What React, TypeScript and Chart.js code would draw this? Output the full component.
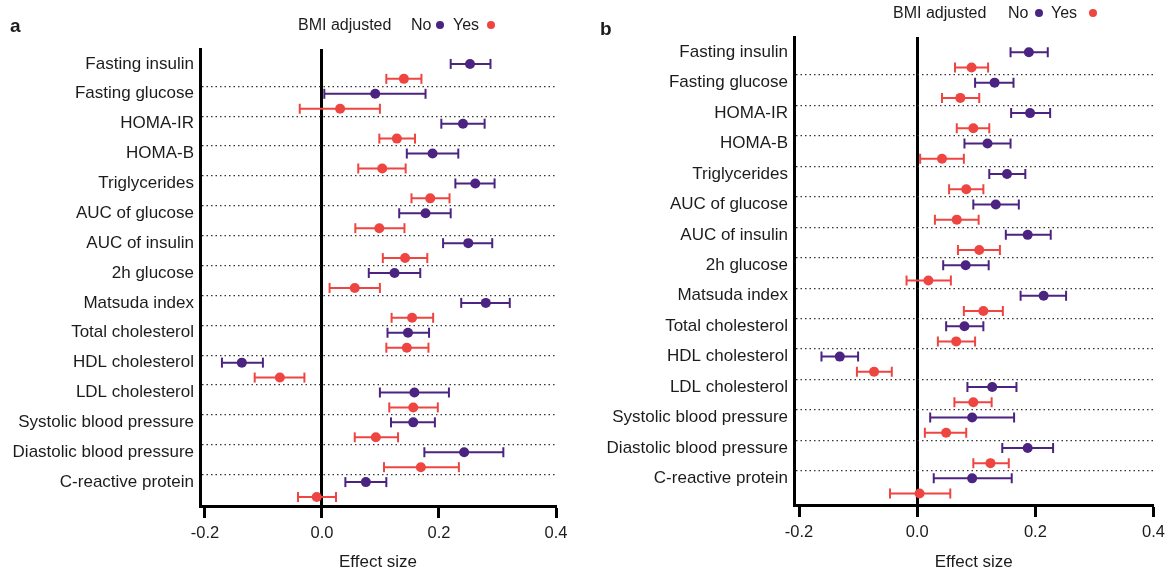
import React, { useEffect, useRef } from 'react';
import { Chart, registerables } from 'chart.js';

Chart.register(...registerables);

const FONT = '"Liberation Sans", Arial, Helvetica, sans-serif';

const categories = [
  'Fasting insulin', 'Fasting glucose', 'HOMA-IR', 'HOMA-B', 'Triglycerides',
  'AUC of glucose', 'AUC of insulin', '2h glucose', 'Matsuda index', 'Total cholesterol',
  'HDL cholesterol', 'LDL cholesterol', 'Systolic blood pressure', 'Diastolic blood pressure',
  'C-reactive protein',
];

// Panel a — BMI adjusted: No
const aNoEst = [0.253, 0.091, 0.241, 0.189, 0.262, 0.177, 0.250, 0.124, 0.280, 0.147, -0.137, 0.158, 0.156, 0.243, 0.075];
const aNoLo = [0.220, 0.004, 0.204, 0.145, 0.228, 0.132, 0.207, 0.080, 0.238, 0.112, -0.171, 0.099, 0.118, 0.175, 0.040];
const aNoHi = [0.288, 0.177, 0.278, 0.233, 0.295, 0.220, 0.291, 0.168, 0.321, 0.183, -0.101, 0.217, 0.193, 0.310, 0.110];
// Panel a — BMI adjusted: Yes
const aYesEst = [0.140, 0.031, 0.128, 0.103, 0.185, 0.098, 0.142, 0.056, 0.154, 0.145, -0.072, 0.156, 0.092, 0.169, -0.009];
const aYesLo = [0.110, -0.038, 0.098, 0.062, 0.153, 0.057, 0.104, 0.013, 0.119, 0.110, -0.115, 0.115, 0.056, 0.106, -0.041];
const aYesHi = [0.170, 0.099, 0.159, 0.143, 0.218, 0.141, 0.180, 0.099, 0.190, 0.182, -0.030, 0.198, 0.130, 0.234, 0.024];

// Panel b — BMI adjusted: No
const bNoEst = [0.189, 0.131, 0.191, 0.119, 0.152, 0.133, 0.187, 0.082, 0.214, 0.080, -0.131, 0.127, 0.093, 0.187, 0.093];
const bNoLo = [0.158, 0.098, 0.159, 0.080, 0.122, 0.095, 0.150, 0.044, 0.175, 0.049, -0.162, 0.085, 0.022, 0.144, 0.028];
const bNoHi = [0.221, 0.163, 0.225, 0.158, 0.183, 0.172, 0.226, 0.121, 0.252, 0.112, -0.100, 0.168, 0.164, 0.230, 0.160];
// Panel b — BMI adjusted: Yes
const bYesEst = [0.092, 0.073, 0.095, 0.042, 0.083, 0.067, 0.105, 0.019, 0.112, 0.066, -0.073, 0.095, 0.049, 0.124, 0.004];
const bYesLo = [0.064, 0.042, 0.067, 0.005, 0.054, 0.030, 0.069, -0.018, 0.079, 0.035, -0.102, 0.063, 0.013, 0.095, -0.046];
const bYesHi = [0.120, 0.105, 0.122, 0.079, 0.112, 0.104, 0.140, 0.057, 0.145, 0.098, -0.043, 0.126, 0.083, 0.155, 0.056];

const xTicks = [-0.2, 0, 0.2, 0.4];
const xMin = -0.2085;
const xMax = 0.4;

const PURPLE = '#4b2380';
const RED = '#ee4540';
const TEXT = '#1c1c1c';

type Group = { est: number[]; lo: number[]; hi: number[]; color: string; offset: number };

function groupDatasets(g: Group): any[] {
  const slot = (i: number) => 2 * i + g.offset;
  return [
    {
      type: 'scatter',
      data: g.est.map((v, i) => ({ x: v, y: slot(i) })),
      pointRadius: 5,
      pointBackgroundColor: g.color,
      pointBorderWidth: 0,
      order: 0,
    },
    {
      type: 'scatter',
      data: g.lo.flatMap((v, i) => [{ x: v, y: slot(i) }, { x: g.hi[i], y: slot(i) }]),
      pointStyle: 'line',
      rotation: 90,
      pointRadius: 5,
      pointBorderColor: g.color,
      pointBorderWidth: 2,
      order: 1,
    },
    {
      type: 'line',
      data: g.lo.flatMap((v, i) => [
        { x: v, y: slot(i) },
        { x: g.hi[i], y: slot(i) },
        { x: null, y: null },
      ]),
      borderColor: g.color,
      borderWidth: 2,
      pointRadius: 0,
      showLine: true,
      spanGaps: false,
      fill: false,
      order: 2,
    },
  ];
}

type PanelProps = {
  width: number;
  height: number;
  padTop: number;
  padRight: number;
  yWidth: number;
  xHeight: number;
  yMax: number;
  groups: Group[];
};

function ForestPanel(p: PanelProps) {
  const ref = useRef<HTMLCanvasElement | null>(null);
  useEffect(() => {
    if (!ref.current) return;
    const labelTicks = categories.map((_, i) => 2 * i);
    const gridTicks = categories.slice(0, -1).map((_, i) => 2 * i + 1.5);
    const allTicks = [...labelTicks, ...gridTicks].sort((a, b) => a - b);
    const isLabel = (v: number) => Number.isInteger(v) && v % 2 === 0;
    const chart = new Chart(ref.current, {
      type: 'scatter',
      data: { datasets: p.groups.flatMap(groupDatasets) },
      options: {
        responsive: false,
        animation: false,
        events: [],
        layout: { padding: { top: p.padTop, right: p.padRight, left: 0, bottom: 0 } },
        plugins: { legend: { display: false }, tooltip: { enabled: false } },
        scales: {
          x: {
            type: 'linear',
            min: xMin,
            max: xMax,
            afterBuildTicks: (s: any) => {
              s.ticks = xTicks.map((v) => ({ value: v }));
            },
            afterFit: (s: any) => {
              s.height = p.xHeight;
            },
            ticks: {
              callback: (v: any) => Number(v).toFixed(1),
              font: { family: FONT, size: 16.5 },
              color: TEXT,
              padding: 6,
              autoSkip: false,
              maxRotation: 0,
            },
            grid: {
              drawOnChartArea: true,
              color: (ctx: any) => (ctx.tick && ctx.tick.value === 0 ? '#000' : 'rgba(0,0,0,0)'),
              lineWidth: (ctx: any) => (ctx.tick && ctx.tick.value === 0 ? 3 : 1),
              drawTicks: true,
              tickLength: 12,
              tickWidth: 3,
              tickColor: '#000',
            },
            border: { display: true, color: '#000', width: 3 },
            title: {
              display: true,
              text: 'Effect size',
              font: { family: FONT, size: 17 },
              color: TEXT,
              padding: { top: 0, bottom: 3 },
            },
          },
          y: {
            type: 'linear',
            reverse: true,
            min: -1,
            max: p.yMax,
            afterBuildTicks: (s: any) => {
              s.ticks = allTicks.map((v) => ({ value: v }));
            },
            afterFit: (s: any) => {
              s.width = p.yWidth;
            },
            ticks: {
              callback: (v: any) => (isLabel(Number(v)) ? categories[Number(v) / 2] : ''),
              font: { family: FONT, size: 17 },
              color: TEXT,
              padding: 6,
              autoSkip: false,
            },
            grid: {
              drawTicks: false,
              color: (ctx: any) => (ctx.tick && !isLabel(ctx.tick.value) ? '#333' : 'rgba(0,0,0,0)'),
              lineWidth: 1.2,
            },
            border: { display: true, color: '#000', width: 3, dash: [1.5, 3] },
          },
        },
      } as any,
    });
    return () => chart.destroy();
  }, []);
  return <canvas ref={ref} width={p.width} height={p.height} style={{ display: 'block' }} />;
}

const abs = (left: number, cy: number, extra: React.CSSProperties = {}): React.CSSProperties => ({
  position: 'absolute',
  left,
  top: cy,
  transform: 'translateY(-50%)',
  lineHeight: 1,
  whiteSpace: 'nowrap',
  ...extra,
});

function Dot({ left, cy, color }: { left: number; cy: number; color: string }) {
  return (
    <span
      style={{
        position: 'absolute',
        left,
        top: cy - 4,
        width: 8,
        height: 8,
        borderRadius: '50%',
        background: color,
      }}
    />
  );
}

export default function App() {
  return (
    <div
      style={{
        position: 'fixed',
        left: 0,
        top: 0,
        width: 1171,
        height: 576,
        background: '#fff',
        fontFamily: FONT,
        color: TEXT,
        overflow: 'hidden',
      }}
    >
      <div style={{ position: 'absolute', left: 0, top: 0 }}>
        <ForestPanel
          width={585}
          height={576}
          padTop={49}
          padRight={29}
          yWidth={200}
          xHeight={70}
          yMax={29.6}
          groups={[
            { est: aNoEst, lo: aNoLo, hi: aNoHi, color: PURPLE, offset: 0 },
            { est: aYesEst, lo: aYesLo, hi: aYesHi, color: RED, offset: 1 },
          ]}
        />
      </div>
      <div style={{ position: 'absolute', left: 585, top: 0 }}>
        <ForestPanel
          width={586}
          height={576}
          padTop={37}
          padRight={15}
          yWidth={209}
          xHeight={71}
          yMax={29.75}
          groups={[
            { est: bNoEst, lo: bNoLo, hi: bNoHi, color: PURPLE, offset: 0 },
            { est: bYesEst, lo: bYesLo, hi: bYesHi, color: RED, offset: 1 },
          ]}
        />
      </div>

      <div style={abs(10, 25, { fontWeight: 'bold', fontSize: 19 })}>a</div>
      <div style={abs(298, 25, { fontSize: 16 })}>BMI adjusted</div>
      <div style={abs(411, 25, { fontSize: 16 })}>No</div>
      <Dot left={436} cy={25} color={PURPLE} />
      <div style={abs(453, 25, { fontSize: 16 })}>Yes</div>
      <Dot left={487} cy={25} color={RED} />

      <div style={abs(600, 28, { fontWeight: 'bold', fontSize: 19 })}>b</div>
      <div style={abs(893, 13, { fontSize: 16 })}>BMI adjusted</div>
      <div style={abs(1008, 13, { fontSize: 16 })}>No</div>
      <Dot left={1035} cy={13} color={PURPLE} />
      <div style={abs(1051, 13, { fontSize: 16 })}>Yes</div>
      <Dot left={1089} cy={13} color={RED} />
    </div>
  );
}
